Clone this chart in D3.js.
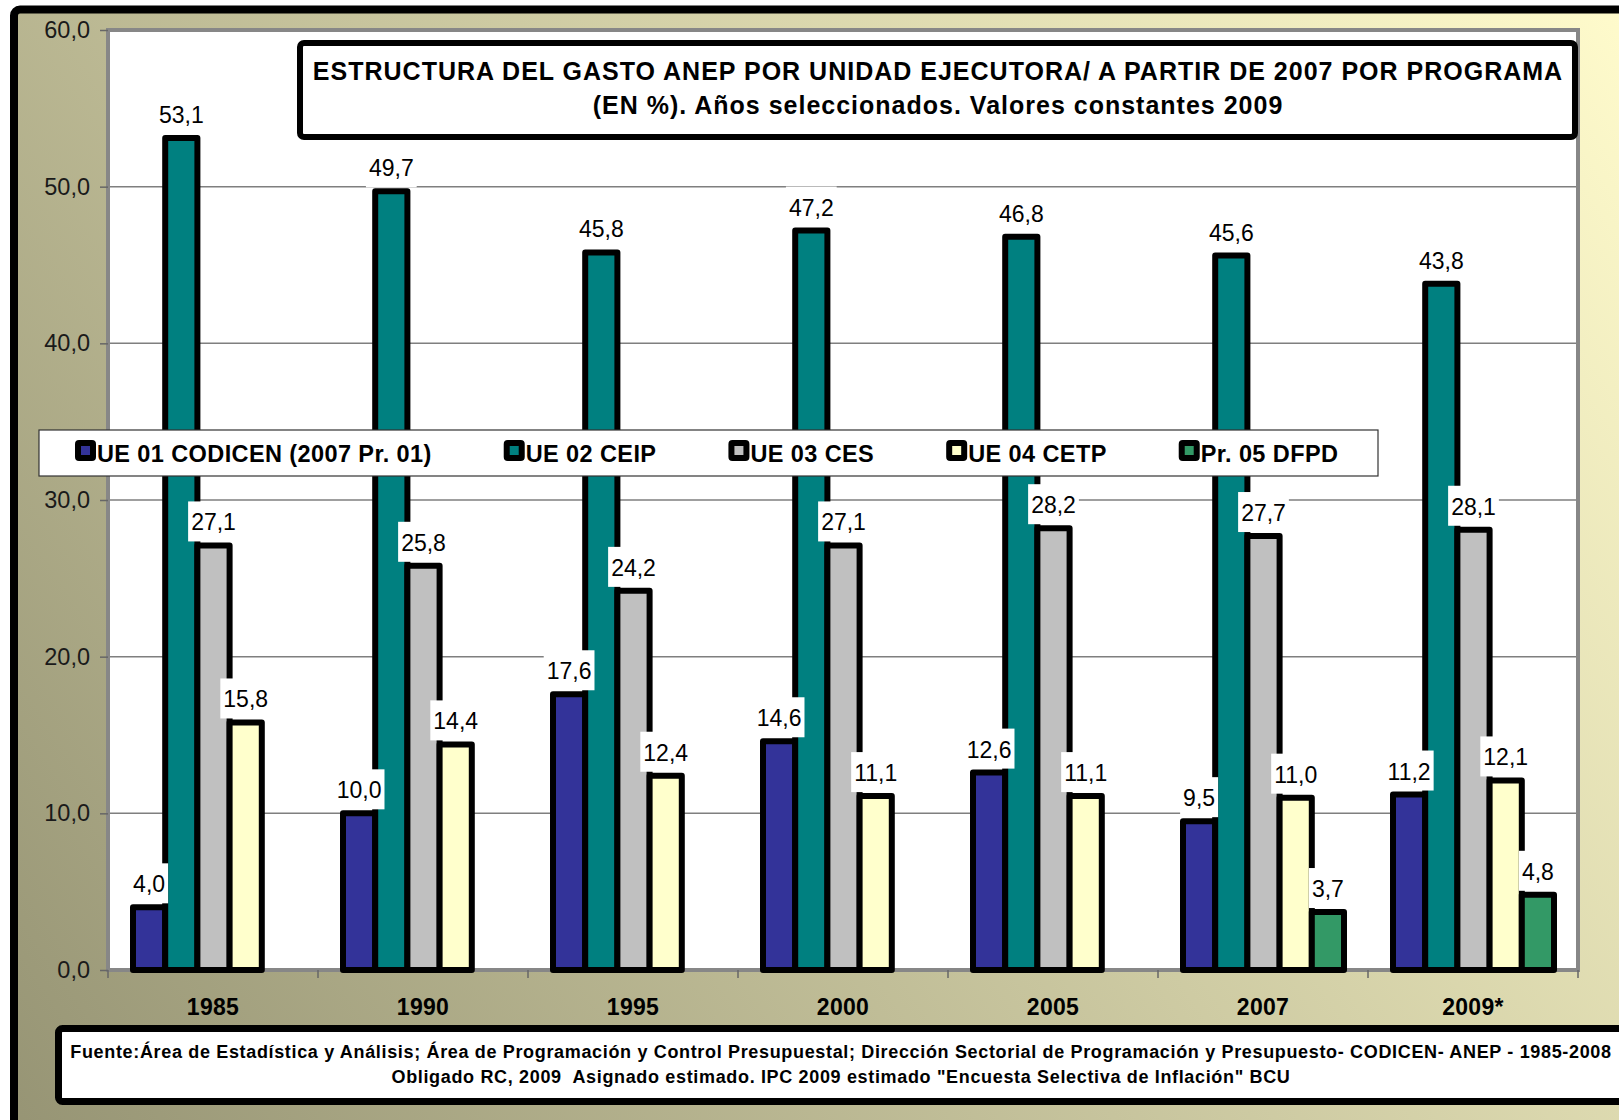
<!DOCTYPE html>
<html>
<head>
<meta charset="utf-8">
<script src="https://cdn.jsdelivr.net/npm/d3@7"></script>
<style>
  body { margin: 0; background: #fff; }
  text { font-family: "Liberation Sans", Arial, sans-serif; }
</style>
</head>
<body>
<svg id="chart" width="1619" height="1120"></svg>
<script>
// data
const years = ["1985", "1990", "1995", "2000", "2005", "2007", "2009*"];
const seriesNames = ["UE 01 CODICEN (2007 Pr. 01)", "UE 02 CEIP", "UE 03 CES", "UE 04 CETP", "Pr. 05 DFPD"];
const ue01 = [4.0, 10.0, 17.6, 14.6, 12.6, 9.5, 11.2];
const ue02 = [53.1, 49.7, 45.8, 47.2, 46.8, 45.6, 43.8];
const ue03 = [27.1, 25.8, 24.2, 27.1, 28.2, 27.7, 28.1];
const ue04 = [15.8, 14.4, 12.4, 11.1, 11.1, 11.0, 12.1];
const pr05 = [null, null, null, null, null, 3.7, 4.8];
const yTicks = [0, 10, 20, 30, 40, 50, 60];
const titleLines = [
  "ESTRUCTURA DEL GASTO ANEP POR UNIDAD EJECUTORA/ A PARTIR DE 2007 POR PROGRAMA",
  "(EN %). Años seleccionados. Valores constantes 2009"
];
const sourceLines = [
  "Fuente:Área de Estadística y Análisis; Área de Programación y Control Presupuestal; Dirección Sectorial de Programación y Presupuesto- CODICEN- ANEP - 1985-2008",
  "Obligado RC, 2009  Asignado estimado. IPC 2009 estimado \"Encuesta Selectiva de Inflación\" BCU"
];

const series = [ue01, ue02, ue03, ue04, pr05];
const colors = ["#333399", "#008080", "#c0c0c0", "#ffffcc", "#339966"];
const fmt = v => d3.format(".1f")(v).replace(".", ",");

const svg = d3.select("#chart");

const defs = svg.append("defs");
const grad = defs.append("linearGradient")
  .attr("id", "bg")
  .attr("gradientUnits", "userSpaceOnUse")
  .attr("x1", 0).attr("y1", 1120)
  .attr("x2", 1619).attr("y2", 0);
grad.append("stop").attr("offset", "0%").attr("stop-color", "#969474");
grad.append("stop").attr("offset", "100%").attr("stop-color", "#fffbcc");

// outer frame (runs off the right and bottom edges)
svg.append("rect")
  .attr("x", 14).attr("y", 9.5)
  .attr("width", 1700).attr("height", 1200)
  .attr("rx", 6)
  .style("fill", "url(#bg)")
  .style("stroke", "#000")
  .style("stroke-width", 8);

const plotL = 108, plotR = 1578, plotT = 30, plotB = 970;

const x0 = d3.scaleBand().domain(years).range([plotL, plotR]);
const x1 = d3.scaleBand().domain(d3.range(series.length)).range([25, 186]);
const y = d3.scaleLinear().domain([0, 60]).range([plotB, plotT]);

// plot area
svg.append("rect")
  .attr("x", plotL).attr("y", plotT)
  .attr("width", plotR - plotL).attr("height", plotB - plotT)
  .style("fill", "#fff");

svg.append("g")
  .selectAll("line")
  .data(yTicks.filter(d => d > 0 && d < 60))
  .enter()
  .append("line")
  .attr("x1", plotL).attr("x2", plotR)
  .attr("y1", d => y(d)).attr("y2", d => y(d))
  .style("stroke", "#7f7f7f")
  .style("stroke-width", 1.5);

svg.append("rect")
  .attr("x", plotL).attr("y", plotT)
  .attr("width", plotR - plotL).attr("height", plotB - plotT)
  .style("fill", "none")
  .style("stroke", "#878787")
  .style("stroke-width", 4);

// y axis
const yAxis = svg.append("g")
  .attr("transform", `translate(${plotL},0)`)
  .call(d3.axisLeft(y).tickValues(yTicks).tickFormat(fmt).tickSize(8).tickPadding(10));
yAxis.select(".domain").remove();
yAxis.selectAll("line").style("stroke", "#666").style("stroke-width", 1.5);
yAxis.selectAll("text")
  .style("font-size", "23.5px")
  .style("fill", "#1a1a1a");

// x ticks on the category boundaries
svg.append("g")
  .selectAll("line")
  .data(years.map(d => x0(d)).concat([plotR]))
  .enter()
  .append("line")
  .attr("x1", d => d).attr("x2", d => d)
  .attr("y1", plotB).attr("y2", plotB + 8)
  .style("stroke", "#666")
  .style("stroke-width", 1.5);

svg.append("g")
  .selectAll("text")
  .data(years)
  .enter()
  .append("text")
  .attr("x", d => x0(d) + x0.bandwidth() / 2)
  .attr("y", 1015)
  .attr("text-anchor", "middle")
  .style("font-size", "23px")
  .style("font-weight", "bold")
  .style("letter-spacing", "0.3px")
  .text(d => d);

// bars
const cells = [];
years.forEach((yr, i) => {
  series.forEach((s, k) => {
    if (s[i] != null) cells.push({ year: yr, k: k, value: s[i] });
  });
});

svg.append("g")
  .selectAll("rect")
  .data(cells)
  .enter()
  .append("rect")
  .attr("x", d => x0(d.year) + x1(d.k))
  .attr("y", d => y(d.value))
  .attr("width", x1.bandwidth())
  .attr("height", d => plotB - y(d.value))
  .style("fill", d => colors[d.k])
  .style("stroke", "#000")
  .style("stroke-width", 6)
  .style("stroke-linejoin", "round");

// value labels on white boxes
const labels = svg.append("g")
  .selectAll("g")
  .data(cells)
  .enter()
  .append("g")
  .attr("transform", d => `translate(${x0(d.year) + x1(d.k) + x1.bandwidth() / 2},${y(d.value) - 15})`);

labels.append("text")
  .attr("text-anchor", "middle")
  .style("font-size", "23px")
  .style("fill", "#000")
  .text(d => fmt(d.value));

labels.each(function () {
  const g = d3.select(this);
  const w = g.select("text").node().getComputedTextLength();
  g.insert("rect", "text")
    .attr("x", -w / 2 - 3).attr("y", -29)
    .attr("width", w + 6).attr("height", 40)
    .style("fill", "#fff");
});

// legend
const legend = svg.append("g");
legend.append("rect")
  .attr("x", 39).attr("y", 430)
  .attr("width", 1339).attr("height", 46)
  .style("fill", "#fff")
  .style("stroke", "#333")
  .style("stroke-width", 1.2);

let lx = 75;
seriesNames.forEach((name, k) => {
  legend.append("rect")
    .attr("x", lx + 3).attr("y", 443)
    .attr("width", 15).attr("height", 15)
    .attr("rx", 1)
    .style("fill", colors[k])
    .style("stroke", "#000")
    .style("stroke-width", 6)
    .style("stroke-linejoin", "round");
  const t = legend.append("text")
    .attr("x", lx + 22).attr("y", 462)
    .style("font-size", "23.5px")
    .style("font-weight", "bold")
    .style("letter-spacing", "0.4px")
    .text(name);
  lx += 22 + t.node().getComputedTextLength() + 72;
});

// title box
svg.append("rect")
  .attr("x", 300).attr("y", 43)
  .attr("width", 1275).attr("height", 94)
  .attr("rx", 4)
  .style("fill", "#fff")
  .style("stroke", "#000")
  .style("stroke-width", 6);

svg.append("g")
  .selectAll("text")
  .data(titleLines)
  .enter()
  .append("text")
  .attr("x", 938)
  .attr("y", (d, i) => 80 + i * 34)
  .attr("text-anchor", "middle")
  .style("font-size", "25px")
  .style("font-weight", "bold")
  .style("letter-spacing", "1px")
  .text(d => d);

// source box
svg.append("rect")
  .attr("x", 58.5).attr("y", 1028.5)
  .attr("width", 1700).attr("height", 73)
  .attr("rx", 4)
  .style("fill", "#fff")
  .style("stroke", "#000")
  .style("stroke-width", 7);

svg.append("g")
  .selectAll("text")
  .data(sourceLines)
  .enter()
  .append("text")
  .attr("x", 841)
  .attr("y", (d, i) => 1058 + i * 25)
  .attr("text-anchor", "middle")
  .style("font-size", "18px")
  .style("font-weight", "bold")
  .style("letter-spacing", "0.66px")
  .style("white-space", "pre")
  .text(d => d);
</script>
</body>
</html>
